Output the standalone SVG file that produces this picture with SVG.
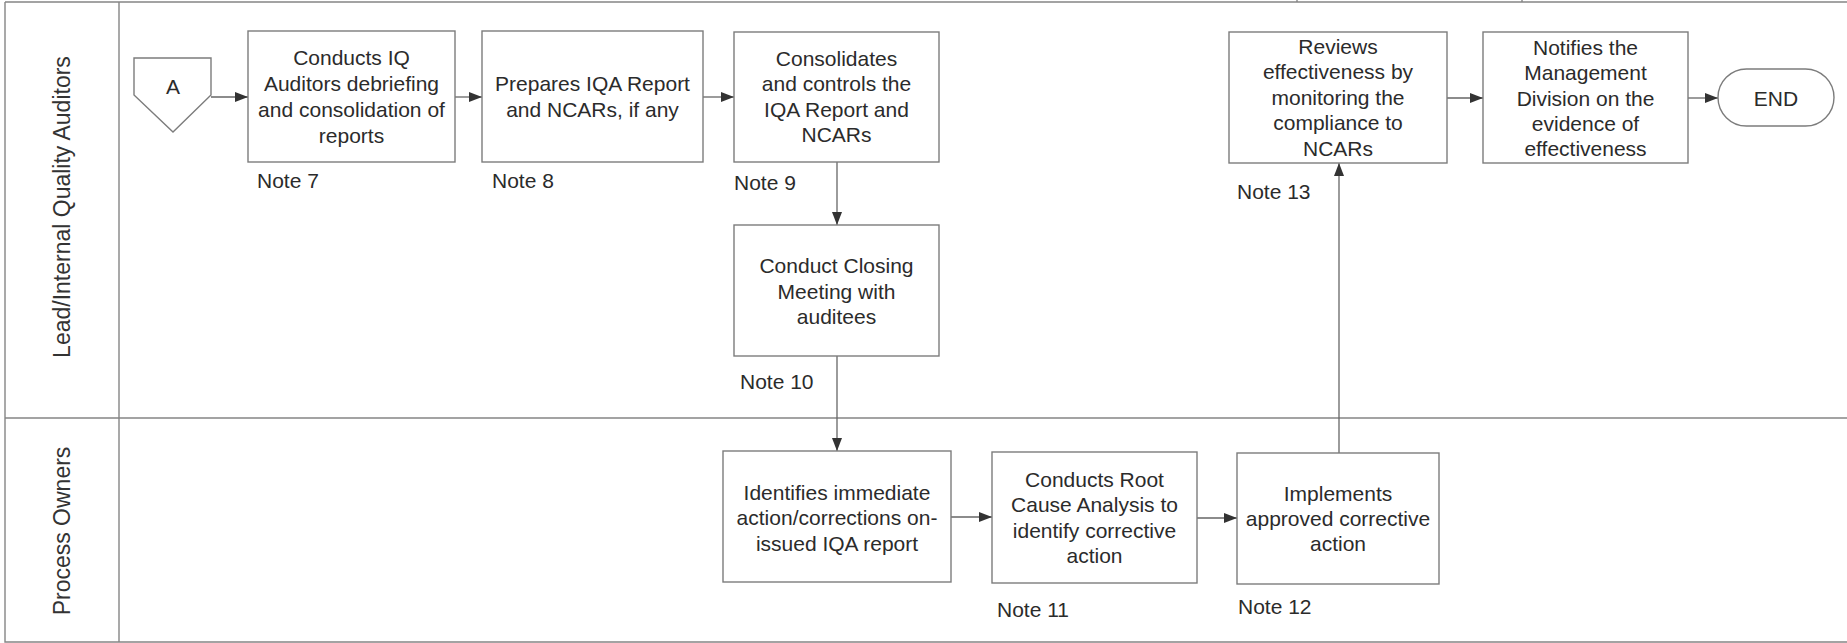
<svg xmlns="http://www.w3.org/2000/svg" width="1847" height="643" viewBox="0 0 1847 643">
<defs>
<style>
.lane{fill:none;stroke:#858585;stroke-width:1.4}
.box{fill:#ffffff;stroke:#7c7c7c;stroke-width:1.4}
.t{font-family:"Liberation Sans",Arial,sans-serif;font-size:21px;fill:#2b2b2b;text-anchor:middle}
.n{font-family:"Liberation Sans",Arial,sans-serif;font-size:21px;fill:#2b2b2b}
.lbl{font-family:"Liberation Sans",Arial,sans-serif;font-size:23px;fill:#333333;text-anchor:middle}
.c{fill:none;stroke:#666666;stroke-width:1.3}
</style>
<marker id="ah" markerUnits="userSpaceOnUse" markerWidth="14" markerHeight="11" refX="13" refY="5" orient="auto">
<path d="M0,0 L13,5 L0,10 Z" fill="#333333"/>
</marker>
</defs>
<rect width="1847" height="643" fill="#ffffff"/>
<g id="lanes">
<path class="lane" d="M5,2 H1847 M5,2 V642 H1847 M5,418 H1847 M119,2 V642 M1297,0 V2 M1522,0 V2"/>
<text class="lbl" transform="translate(70,207) rotate(-90)">Lead/Internal Quality Auditors</text>
<text class="lbl" transform="translate(70,531) rotate(-90)">Process Owners</text>
</g>
<g id="connectors">
<path class="c" d="M211,97 H248" marker-end="url(#ah)"/>
<path class="c" d="M455,97 H482" marker-end="url(#ah)"/>
<path class="c" d="M703,97 H734" marker-end="url(#ah)"/>
<path class="c" d="M837,162 V225" marker-end="url(#ah)"/>
<path class="c" d="M837,356 V451" marker-end="url(#ah)"/>
<path class="c" d="M951,517 H992" marker-end="url(#ah)"/>
<path class="c" d="M1197,518 H1237" marker-end="url(#ah)"/>
<path class="c" d="M1339,453 V163" marker-end="url(#ah)"/>
<path class="c" d="M1447,98 H1483" marker-end="url(#ah)"/>
<path class="c" d="M1688,98 H1718" marker-end="url(#ah)"/>
</g>
<g id="nodeA">
<polygon class="box" points="134,58 211,58 211,95 173,132 134,95"/>
<text class="t" x="173" y="93.5">A</text>
</g>
<g id="node7">
<rect class="box" x="248" y="31" width="207" height="131"/>
<text class="t" x="351.5" y="64.5">Conducts IQ</text>
<text class="t" x="351.5" y="90.5">Auditors debriefing</text>
<text class="t" x="351.5" y="116.5">and consolidation of</text>
<text class="t" x="351.5" y="142.5">reports</text>
<text class="n" x="257" y="187.5">Note 7</text>
</g>
<g id="node8">
<rect class="box" x="482" y="31" width="221" height="131"/>
<text class="t" x="592.5" y="91">Prepares IQA Report</text>
<text class="t" x="592.5" y="117">and NCARs, if any</text>
<text class="n" x="492" y="187.5">Note 8</text>
</g>
<g id="node9">
<rect class="box" x="734" y="32" width="205" height="130"/>
<text class="t" x="836.5" y="65.5">Consolidates</text>
<text class="t" x="836.5" y="91">and controls the</text>
<text class="t" x="836.5" y="116.5">IQA Report and</text>
<text class="t" x="836.5" y="142">NCARs</text>
<text class="n" x="734" y="189.5">Note 9</text>
</g>
<g id="node10">
<rect class="box" x="734" y="225" width="205" height="131"/>
<text class="t" x="836.5" y="272.5">Conduct Closing</text>
<text class="t" x="836.5" y="298.5">Meeting with</text>
<text class="t" x="836.5" y="323.5">auditees</text>
<text class="n" x="740" y="388.5">Note 10</text>
</g>
<g id="node11a">
<rect class="box" x="723" y="451" width="228" height="131"/>
<text class="t" x="837" y="499.5">Identifies immediate</text>
<text class="t" x="837" y="524.5">action/corrections on-</text>
<text class="t" x="837" y="550.5">issued IQA report</text>
</g>
<g id="node11">
<rect class="box" x="992" y="452" width="205" height="131"/>
<text class="t" x="1094.5" y="486.5">Conducts Root</text>
<text class="t" x="1094.5" y="511.5">Cause Analysis to</text>
<text class="t" x="1094.5" y="537.5">identify corrective</text>
<text class="t" x="1094.5" y="562.5">action</text>
<text class="n" x="997" y="616.5">Note 11</text>
</g>
<g id="node12">
<rect class="box" x="1237" y="453" width="202" height="131"/>
<text class="t" x="1338" y="500.5">Implements</text>
<text class="t" x="1338" y="525.5">approved corrective</text>
<text class="t" x="1338" y="550.5">action</text>
<text class="n" x="1238" y="613.5">Note 12</text>
</g>
<g id="node13">
<rect class="box" x="1229" y="32" width="218" height="131"/>
<text class="t" x="1338" y="53.5">Reviews</text>
<text class="t" x="1338" y="79">effectiveness by</text>
<text class="t" x="1338" y="104.5">monitoring the</text>
<text class="t" x="1338" y="130">compliance to</text>
<text class="t" x="1338" y="155.5">NCARs</text>
<text class="n" x="1237" y="198.5">Note 13</text>
</g>
<g id="nodeNotify">
<rect class="box" x="1483" y="32" width="205" height="131"/>
<text class="t" x="1585.5" y="54.5">Notifies the</text>
<text class="t" x="1585.5" y="79.5">Management</text>
<text class="t" x="1585.5" y="105.5">Division on the</text>
<text class="t" x="1585.5" y="130.5">evidence of</text>
<text class="t" x="1585.5" y="155.5">effectiveness</text>
</g>
<g id="nodeEnd">
<rect class="box" x="1718" y="69" width="116" height="57" rx="28.5" ry="28.5"/>
<text class="t" x="1776" y="105.5">END</text>
</g>
</svg>
